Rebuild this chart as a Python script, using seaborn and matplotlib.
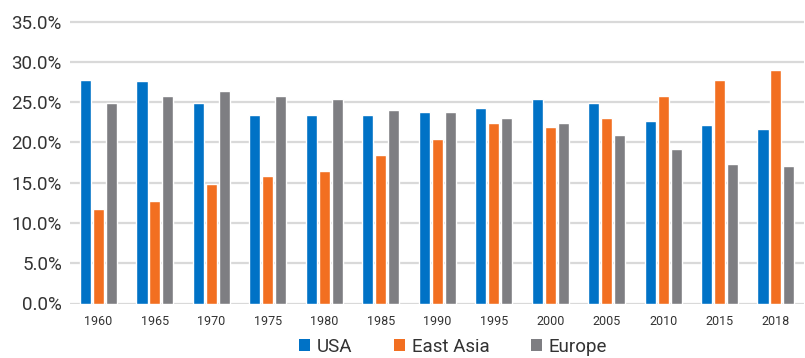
import matplotlib
matplotlib.use("Agg")
import matplotlib.pyplot as plt
from matplotlib.patches import Patch
from matplotlib.ticker import PercentFormatter
import pandas as pd
import seaborn as sns

# Share of the total, by region and year (percent)
years = ["1960", "1965", "1970", "1975", "1980", "1985", "1990",
         "1995", "2000", "2005", "2010", "2015", "2018"]
usa = [27.8, 27.6, 24.9, 23.4, 23.4, 23.4, 23.8, 24.3, 25.4, 24.9, 22.6, 22.1, 21.6]
east_asia = [11.7, 12.7, 14.8, 15.8, 16.4, 18.4, 20.4, 22.4, 21.9, 23.0, 25.7, 27.8, 29.0]
europe = [24.9, 25.7, 26.4, 25.7, 25.4, 24.0, 23.8, 23.0, 22.4, 20.9, 19.2, 17.3, 17.1]
regions = ["USA", "East Asia", "Europe"]
colors = ["#0072C6", "#F26F21", "#7E7E82"]

df = pd.DataFrame({
    "year": years * 3,
    "region": ["USA"] * len(years) + ["East Asia"] * len(years) + ["Europe"] * len(years),
    "value": usa + east_asia + europe,
})

sns.set_theme(style="white")
plt.rcParams["font.family"] = ["Roboto", "DejaVu Sans"]
text_color = "#333333"

fig = plt.figure(figsize=(8.05, 3.58), dpi=100)
ax = fig.add_axes([70.3 / 805, 54.5 / 358, (804.2 - 70.3) / 805, 284 / 358])

sns.barplot(data=df, x="year", y="value", hue="region", hue_order=regions,
            order=years, palette=colors, width=0.69, gap=0.15,
            saturation=1, legend=False, ax=ax, zorder=3)

ax.set_xlim(-0.5, len(years) - 0.5)
ax.set_ylim(0, 35.25)
ax.set_yticks([0, 5, 10, 15, 20, 25, 30, 35])
ax.yaxis.set_major_formatter(PercentFormatter(decimals=1))
ax.grid(axis="y", color="#D9D9D9", linewidth=1.6, zorder=0)
ax.set_axisbelow(True)
for s in ax.spines.values():
    s.set_visible(False)
ax.set_xlabel("")
ax.set_ylabel("")
ax.tick_params(axis="y", length=0, pad=6, labelsize=13.5, labelcolor=text_color)
ax.tick_params(axis="x", length=0, pad=8, labelsize=9, labelcolor=text_color)

handles = [Patch(facecolor=c, edgecolor="none", label=r) for r, c in zip(regions, colors)]
fig.legend(handles=handles, loc="center", ncol=3, frameon=False,
           bbox_to_anchor=(453 / 805, 1 - 347 / 358),
           fontsize=13.5, labelcolor=text_color,
           handlelength=0.6, handleheight=0.6, handletextpad=0.35,
           columnspacing=2.2, borderpad=0, borderaxespad=0)

fig.savefig("out.png", dpi=100)
